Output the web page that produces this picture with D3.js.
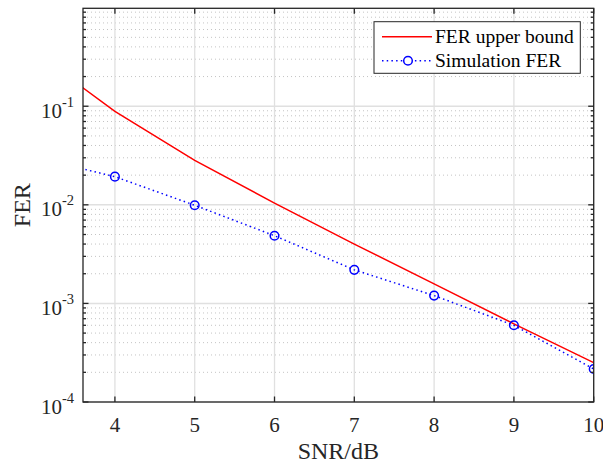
<!DOCTYPE html>
<html><head><meta charset="utf-8">
<script src="https://cdn.jsdelivr.net/npm/d3@7"></script>
<style>body{margin:0;background:#fff} svg{display:block}</style>
</head><body><svg id="c" width="603" height="466"></svg>
<script>
const snr = [3, 4, 5, 6, 7, 8, 9, 10];
const ferBound = [0.35, 0.0889, 0.0283, 0.0104, 0.0040, 0.00158, 0.00062, 0.000251];
const ferSim = [0.0303, 0.0193, 0.0099, 0.00486, 0.00219, 0.0012, 0.0006, 0.000216];
const xTicks = [4, 5, 6, 7, 8, 9, 10];
const yTicks = [1e-4, 1e-3, 1e-2, 1e-1];
const yTickExp = ["-4", "-3", "-2", "-1"];
const seriesNames = ["FER upper bound", "Simulation FER"];
const xLabel = "SNR/dB", yLabel = "FER";

const svg = d3.select("#c");
const L = 83, R = 593.7, T = 8.3, B = 402;
const x = d3.scaleLinear().domain([3.6, 10]).range([L, R]);
const y = d3.scaleLog().domain([1e-4, 0.985]).range([B, T]);
const axisCol = "#262626";
const font = "'Liberation Serif','Times New Roman',serif";

// minor values
const minor = [];
for (let e = -4; e < 0; e++) for (let m = 2; m <= 9; m++) {
  const v = m * Math.pow(10, e);
  if (v <= y.domain()[1]) minor.push(v);
}

const g = svg.append("g");
// minor horizontal grid (dotted)
g.selectAll(".mg").data(minor).join("line")
  .attr("x1", L).attr("x2", R)
  .attr("y1", d => y(d)).attr("y2", d => y(d))
  .attr("stroke", "#c4c4c4").attr("stroke-width", 1).attr("stroke-dasharray", "1,3");
// major grid
g.selectAll(".hg").data(yTicks).join("line")
  .attr("x1", L).attr("x2", R)
  .attr("y1", d => y(d)).attr("y2", d => y(d))
  .attr("stroke", "#e0e0e0").attr("stroke-width", 1.5);
g.selectAll(".vg").data(xTicks).join("line")
  .attr("y1", T).attr("y2", B)
  .attr("x1", d => x(d)).attr("x2", d => x(d))
  .attr("stroke", "#e0e0e0").attr("stroke-width", 1.3);

// clip
svg.append("clipPath").attr("id", "clip").append("rect")
  .attr("x", L).attr("y", T).attr("width", R - L).attr("height", B - T);

const line = d3.line().x((d, i) => x(snr[i])).y(d => y(d));
const data = svg.append("g").attr("clip-path", "url(#clip)");
data.append("path").datum(ferBound).attr("d", line)
  .attr("fill", "none").attr("stroke", "#ff0000").attr("stroke-width", 1.5);
data.append("path").datum(ferSim).attr("d", line)
  .attr("fill", "none").attr("stroke", "#0000ff").attr("stroke-width", 1.5)
  .attr("stroke-dasharray", "1.5,3.2");
data.selectAll(".mk").data(ferSim).join("circle")
  .attr("cx", (d, i) => x(snr[i])).attr("cy", d => y(d)).attr("r", 4.3)
  .attr("fill", "none").attr("stroke", "#0000ff").attr("stroke-width", 1.5);

// axes box
const ax = svg.append("g").attr("stroke", axisCol).attr("stroke-width", 1.3).attr("fill", "none");
ax.append("rect").attr("x", L).attr("y", T).attr("width", R - L).attr("height", B - T);
// x ticks (top and bottom, inward)
xTicks.forEach(v => {
  ax.append("line").attr("x1", x(v)).attr("x2", x(v)).attr("y1", B).attr("y2", B - 5.5);
  ax.append("line").attr("x1", x(v)).attr("x2", x(v)).attr("y1", T).attr("y2", T + 5.5);
});
yTicks.forEach(v => {
  ax.append("line").attr("x1", L).attr("x2", L + 5.5).attr("y1", y(v)).attr("y2", y(v));
  ax.append("line").attr("x1", R).attr("x2", R - 5.5).attr("y1", y(v)).attr("y2", y(v));
});
minor.forEach(v => {
  ax.append("line").attr("x1", L).attr("x2", L + 3).attr("y1", y(v)).attr("y2", y(v));
  ax.append("line").attr("x1", R).attr("x2", R - 3).attr("y1", y(v)).attr("y2", y(v));
});

// tick labels
const tl = svg.append("g").attr("font-family", font).attr("fill", axisCol);
xTicks.forEach(v => {
  tl.append("text").attr("x", x(v)).attr("y", 432).attr("text-anchor", "middle")
    .attr("font-size", 21).text(v);
});
yTicks.forEach((v, i) => {
  const t = tl.append("text").attr("x", 74).attr("y", y(v) + 11.5).attr("text-anchor", "end")
    .attr("font-size", 21);
  t.append("tspan").text("10");
  t.append("tspan").attr("font-size", 14.5).attr("dy", -11).text(yTickExp[i]);
});
// axis labels
tl.append("text").attr("x", (L + R) / 2).attr("y", 459).attr("text-anchor", "middle")
  .attr("font-size", 24).text(xLabel);
tl.append("text").attr("transform", `translate(29.5,${(T + B) / 2}) rotate(-90)`)
  .attr("text-anchor", "middle").attr("font-size", 24).text(yLabel);

// legend
const lg = svg.append("g");
lg.append("rect").attr("x", 374).attr("y", 21.7).attr("width", 206.3).attr("height", 51.6)
  .attr("fill", "#fff").attr("stroke", axisCol).attr("stroke-width", 1);
const rows = [36.7, 60.7];
lg.append("line").attr("x1", 382).attr("x2", 432).attr("y1", rows[0]).attr("y2", rows[0])
  .attr("stroke", "#ff0000").attr("stroke-width", 1.5);
lg.append("line").attr("x1", 382).attr("x2", 432).attr("y1", rows[1]).attr("y2", rows[1])
  .attr("stroke", "#0000ff").attr("stroke-width", 1.5).attr("stroke-dasharray", "1.5,3.2");
lg.append("circle").attr("cx", 408).attr("cy", rows[1]).attr("r", 4.3)
  .attr("fill", "#fff").attr("stroke", "#0000ff").attr("stroke-width", 1.5);
seriesNames.forEach((s, i) => {
  lg.append("text").attr("x", 435).attr("y", rows[i] + 6.5).attr("font-family", font)
    .attr("font-size", 19.5).attr("fill", "#000").text(s);
});
</script></body></html>
